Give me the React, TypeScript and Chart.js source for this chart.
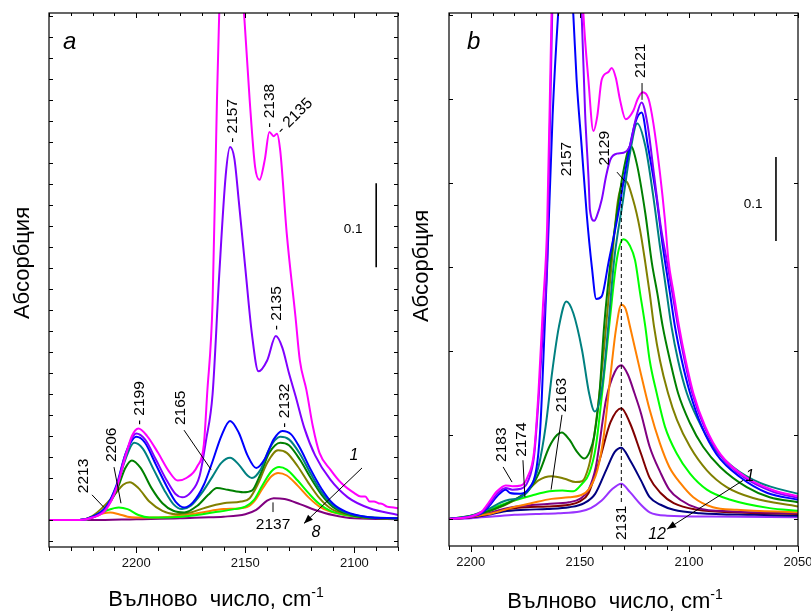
import React, { useEffect, useRef } from "react";
import { Chart, registerables } from "chart.js";

Chart.register(...registerables);

// ---------- Panel a: CO adsorption series (curves 1 → 8) ----------
const A_X_LABELS = [2200, 2150, 2100];

const A1_NU = [2240, 2226, 2220, 2214, 2209, 2205, 2202, 2199, 2195, 2190, 2185, 2181, 2177, 2172, 2169, 2167.5, 2165, 2163, 2162, 2160, 2157, 2154, 2151, 2148, 2145.5, 2143.5, 2141, 2139, 2137, 2135.5, 2134, 2131, 2127, 2125, 2122, 2119, 2116, 2111, 2106, 2100, 2097, 2095, 2093, 2091, 2089, 2087, 2085, 2082, 2080];
const A1_ABS = [0, 0, 0.003, 0.012, 0.038, 0.075, 0.1, 0.109, 0.1, 0.08, 0.058, 0.047, 0.05, 0.064, 0.09, 0.15, 0.26, 0.5, 0.6, 0.76, 0.85, 0.76, 0.62, 0.5, 0.42, 0.405, 0.43, 0.462, 0.457, 0.46, 0.44, 0.341, 0.242, 0.19, 0.155, 0.111, 0.08, 0.06, 0.044, 0.032, 0.028, 0.028, 0.022, 0.022, 0.02, 0.019, 0.016, 0.015, 0.014];

const A2_NU = [2240, 2226, 2220, 2214, 2209, 2205, 2200, 2196, 2191, 2186, 2182, 2179, 2175, 2171, 2168, 2165, 2162, 2159, 2157, 2155, 2153, 2150, 2147, 2144, 2140, 2136, 2133, 2130, 2127, 2123, 2118, 2111, 2103, 2093, 2080];
const A2_ABS = [0, 0, 0.003, 0.013, 0.04, 0.078, 0.103, 0.096, 0.072, 0.047, 0.031, 0.027, 0.033, 0.052, 0.095, 0.15, 0.29, 0.41, 0.444, 0.43, 0.38, 0.3, 0.222, 0.177, 0.19, 0.219, 0.205, 0.175, 0.148, 0.11, 0.077, 0.048, 0.027, 0.014, 0.006];

const A3_NU = [2240, 2226, 2220, 2214, 2209, 2205, 2200, 2196, 2191, 2186, 2182, 2178, 2174, 2169, 2165, 2161, 2157, 2153, 2149, 2145, 2141, 2137, 2133, 2129, 2125, 2120, 2115, 2110, 2104, 2095, 2080];
const A3_ABS = [0, 0, 0.004, 0.015, 0.042, 0.078, 0.099, 0.092, 0.066, 0.04, 0.022, 0.015, 0.021, 0.042, 0.07, 0.1, 0.118, 0.104, 0.077, 0.062, 0.073, 0.096, 0.106, 0.102, 0.086, 0.06, 0.037, 0.02, 0.01, 0.004, 0.002];

const A4_NU = [2240, 2226, 2220, 2214, 2209, 2205, 2201, 2197, 2192, 2187, 2183, 2179, 2175, 2170, 2165, 2161, 2157, 2153, 2149, 2147, 2143, 2139, 2134, 2130, 2125, 2120, 2115, 2110, 2104, 2095, 2080];
const A4_ABS = [0, 0, 0.004, 0.015, 0.04, 0.072, 0.092, 0.085, 0.06, 0.035, 0.019, 0.013, 0.017, 0.032, 0.052, 0.068, 0.074, 0.066, 0.053, 0.05, 0.06, 0.085, 0.099, 0.096, 0.079, 0.055, 0.033, 0.018, 0.009, 0.004, 0.002];

const A5_NU = [2240, 2226, 2220, 2214, 2209, 2205, 2202, 2198, 2193, 2188, 2183, 2178, 2172, 2167, 2163, 2158, 2151, 2147, 2143, 2139, 2134, 2130, 2125, 2120, 2115, 2110, 2104, 2095, 2080];
const A5_ABS = [0, 0, 0.004, 0.014, 0.035, 0.062, 0.071, 0.062, 0.038, 0.02, 0.011, 0.009, 0.017, 0.03, 0.038, 0.036, 0.033, 0.035, 0.055, 0.08, 0.092, 0.089, 0.072, 0.05, 0.03, 0.016, 0.008, 0.003, 0.002];

const A6_NU = [2240, 2226, 2220, 2215, 2210, 2206, 2203, 2199, 2194, 2188, 2182, 2175, 2168, 2160, 2152, 2148, 2144, 2140, 2135, 2131, 2126, 2121, 2116, 2111, 2104, 2095, 2080];
const A6_ABS = [0, 0, 0.005, 0.016, 0.03, 0.042, 0.045, 0.038, 0.022, 0.011, 0.007, 0.009, 0.015, 0.02, 0.022, 0.026, 0.044, 0.068, 0.083, 0.08, 0.064, 0.044, 0.026, 0.014, 0.007, 0.003, 0.002];

const A7_NU = [2240, 2224, 2218, 2213, 2208, 2204, 2199, 2194, 2185, 2175, 2165, 2155, 2150, 2146, 2142, 2138, 2134.5, 2131, 2126, 2121, 2116, 2111, 2104, 2095, 2080];
const A7_ABS = [0, 0, 0.006, 0.012, 0.015, 0.013, 0.006, 0.003, 0.003, 0.005, 0.009, 0.013, 0.016, 0.024, 0.042, 0.058, 0.063, 0.06, 0.047, 0.032, 0.019, 0.011, 0.006, 0.003, 0.002];

const A8_NU = [2240, 2225, 2220, 2215, 2212, 2208, 2204, 2200, 2190, 2180, 2170, 2160, 2150, 2146, 2142, 2138, 2135, 2131, 2126, 2121, 2116, 2111, 2104, 2095, 2080];
const A8_ABS = [0, 0, 0.003, 0.008, 0.009, 0.007, 0.004, 0.003, 0.003, 0.005, 0.009, 0.013, 0.015, 0.022, 0.038, 0.052, 0.056, 0.053, 0.041, 0.027, 0.016, 0.01, 0.006, 0.003, 0.002];

const A9_NU = [2240, 2220, 2200, 2180, 2170, 2160, 2150, 2145, 2140, 2137, 2132, 2125, 2118, 2110, 2100, 2080];
const A9_ABS = [0, 0, 0.001, 0.002, 0.003, 0.004, 0.007, 0.012, 0.023, 0.026, 0.025, 0.019, 0.012, 0.006, 0.002, 0.001];

// ---------- Panel b: series 1 → 12 ----------
const B_X_LABELS = [2200, 2150, 2100, 2050];

const B1_NU = [2210, 2200, 2195, 2191.7, 2188, 2184, 2181, 2177, 2174, 2171, 2169, 2167, 2165, 2163, 2161, 2157, 2153, 2150, 2148.4, 2146.1, 2143.8, 2142, 2140, 2137, 2135.4, 2133.5, 2131.6, 2129, 2125.5, 2123.5, 2121.2, 2118.5, 2116.3, 2113.3, 2111, 2109.4, 2107, 2104.5, 2101.5, 2098, 2092.5, 2085.5, 2074, 2061, 2050];
const B1_ABS = [0, 0.003, 0.009, 0.02, 0.033, 0.04, 0.039, 0.04, 0.05, 0.08, 0.15, 0.25, 0.35, 0.6, 0.8, 0.95, 0.85, 0.7, 0.602, 0.523, 0.462, 0.48, 0.523, 0.532, 0.537, 0.525, 0.499, 0.476, 0.486, 0.5, 0.508, 0.5, 0.471, 0.412, 0.356, 0.308, 0.269, 0.229, 0.189, 0.15, 0.11, 0.077, 0.05, 0.034, 0.027];

const B2_NU = [2210, 2200, 2195, 2191.7, 2188, 2184, 2181, 2177, 2173.8, 2171, 2169, 2167, 2165, 2162.7, 2160, 2157, 2153, 2150.5, 2149.2, 2147.6, 2146, 2145.4, 2143.4, 2142.3, 2140, 2138, 2136, 2133, 2130, 2127, 2124.5, 2121.7, 2119, 2116, 2113, 2110.2, 2107.6, 2105, 2102, 2098.5, 2093, 2086, 2075, 2062, 2050];
const B2_ABS = [0, 0.003, 0.008, 0.017, 0.03, 0.037, 0.035, 0.036, 0.045, 0.075, 0.14, 0.22, 0.31, 0.6, 0.78, 0.85, 0.75, 0.65, 0.602, 0.483, 0.404, 0.368, 0.355, 0.36, 0.38, 0.408, 0.428, 0.435, 0.436, 0.445, 0.475, 0.496, 0.47, 0.41, 0.35, 0.308, 0.269, 0.229, 0.189, 0.15, 0.11, 0.077, 0.05, 0.033, 0.025];

const B3_NU = [2210, 2200, 2195, 2191.7, 2188, 2184, 2182, 2177.4, 2173.8, 2169.8, 2168.3, 2167.5, 2165, 2162.5, 2160, 2157, 2155, 2153, 2151.5, 2149.2, 2146.9, 2144.5, 2142.5, 2140, 2136.9, 2132.4, 2128.5, 2124.7, 2121.7, 2118.8, 2115, 2112, 2108.7, 2106.4, 2103.3, 2099.5, 2094.1, 2087.3, 2076.6, 2064, 2050];
const B3_ABS = [0, 0.003, 0.007, 0.015, 0.027, 0.035, 0.031, 0.03, 0.035, 0.062, 0.102, 0.142, 0.3, 0.48, 0.6, 0.7, 0.68, 0.6, 0.523, 0.444, 0.364, 0.3, 0.262, 0.265, 0.305, 0.364, 0.424, 0.471, 0.484, 0.444, 0.385, 0.325, 0.269, 0.229, 0.189, 0.15, 0.11, 0.077, 0.05, 0.031, 0.023];

const B4_NU = [2210, 2200, 2192, 2186, 2182.5, 2178, 2173.3, 2169, 2165.7, 2162.6, 2159.6, 2156.2, 2153, 2149, 2145.8, 2143.2, 2139.8, 2137, 2134.3, 2130.2, 2127, 2123.7, 2120, 2116.4, 2113.3, 2110.2, 2108, 2105, 2101, 2095.8, 2089, 2079.8, 2067.4, 2050];
const B4_ABS = [0, 0.004, 0.012, 0.02, 0.023, 0.025, 0.035, 0.062, 0.11, 0.177, 0.229, 0.259, 0.245, 0.201, 0.15, 0.128, 0.157, 0.229, 0.308, 0.38, 0.436, 0.471, 0.444, 0.385, 0.325, 0.269, 0.229, 0.189, 0.15, 0.118, 0.086, 0.062, 0.043, 0.03];

const B5_NU = [2210, 2200, 2190, 2180, 2173.3, 2168.7, 2164, 2160.5, 2158.3, 2155, 2151, 2148, 2145.5, 2143.5, 2141, 2138.9, 2136, 2133, 2130.2, 2126.7, 2124, 2120, 2117, 2114.5, 2112, 2108.7, 2105, 2099.5, 2093.5, 2085.7, 2073.5, 2063, 2050];
const B5_ABS = [0, 0.004, 0.011, 0.023, 0.035, 0.055, 0.086, 0.1, 0.103, 0.095, 0.079, 0.072, 0.08, 0.098, 0.15, 0.229, 0.305, 0.364, 0.412, 0.444, 0.424, 0.364, 0.305, 0.269, 0.229, 0.189, 0.15, 0.114, 0.086, 0.062, 0.038, 0.026, 0.02];

const B6_NU = [2210, 2200, 2192, 2182.5, 2175, 2169, 2163, 2157, 2152, 2149, 2146, 2144.4, 2141, 2138, 2135.3, 2132.5, 2129, 2125.6, 2122.4, 2120, 2118, 2116, 2113.3, 2109.6, 2105.5, 2099.5, 2091.8, 2082.7, 2070.6, 2050];
const B6_ABS = [0, 0.003, 0.009, 0.019, 0.031, 0.046, 0.051, 0.048, 0.044, 0.045, 0.062, 0.082, 0.15, 0.229, 0.308, 0.38, 0.402, 0.38, 0.344, 0.305, 0.269, 0.229, 0.189, 0.15, 0.118, 0.086, 0.058, 0.038, 0.025, 0.015];

const B7_NU = [2210, 2203, 2198, 2190, 2180, 2172, 2164, 2158, 2153, 2149, 2145.8, 2142.7, 2139.8, 2136.6, 2133, 2130, 2127, 2124.7, 2122.4, 2120, 2118, 2114.8, 2111, 2105.6, 2099.5, 2091.8, 2081, 2063, 2050];
const B7_ABS = [0, 0.002, 0.005, 0.013, 0.022, 0.028, 0.033, 0.034, 0.033, 0.042, 0.054, 0.086, 0.15, 0.229, 0.31, 0.333, 0.325, 0.308, 0.269, 0.229, 0.189, 0.15, 0.11, 0.078, 0.054, 0.035, 0.023, 0.013, 0.01];

const B8_NU = [2210, 2200, 2190, 2182, 2172, 2163, 2155, 2150, 2146, 2142, 2139, 2136, 2133.5, 2131, 2129, 2127, 2122.4, 2118, 2113.3, 2109, 2104, 2098, 2089, 2078, 2050];
const B8_ABS = [0, 0.003, 0.007, 0.013, 0.019, 0.024, 0.026, 0.028, 0.035, 0.058, 0.1, 0.17, 0.225, 0.255, 0.25, 0.229, 0.177, 0.13, 0.09, 0.062, 0.043, 0.026, 0.014, 0.011, 0.008];

const B9_NU = [2210, 2200, 2192, 2185, 2175, 2165, 2155, 2150, 2146, 2142.7, 2138, 2134, 2131, 2128, 2125, 2122, 2118, 2113, 2109, 2104, 2096, 2080, 2050];
const B9_ABS = [0, 0.002, 0.007, 0.012, 0.016, 0.018, 0.02, 0.024, 0.035, 0.062, 0.142, 0.175, 0.183, 0.172, 0.15, 0.126, 0.086, 0.055, 0.035, 0.023, 0.013, 0.009, 0.007];

const B10_NU = [2210, 2200, 2192, 2185, 2175, 2165, 2155, 2150, 2146, 2141, 2136, 2131, 2127, 2122, 2118, 2113, 2107, 2096, 2080, 2050];
const B10_ABS = [0, 0.002, 0.006, 0.011, 0.014, 0.015, 0.017, 0.021, 0.031, 0.07, 0.115, 0.132, 0.114, 0.078, 0.049, 0.031, 0.019, 0.011, 0.008, 0.006];

const B11_NU = [2210, 2200, 2192, 2185, 2175, 2165, 2155, 2148, 2143, 2138, 2134, 2131, 2127, 2122, 2118, 2113, 2107, 2095, 2070, 2050];
const B11_ABS = [0, 0.002, 0.005, 0.009, 0.011, 0.012, 0.014, 0.019, 0.03, 0.058, 0.08, 0.085, 0.07, 0.046, 0.026, 0.017, 0.011, 0.007, 0.005, 0.004];

const B12_NU = [2210, 2200, 2190, 2180, 2170, 2160, 2150, 2145, 2140, 2135, 2131, 2127, 2122, 2118, 2110, 2090, 2050];
const B12_ABS = [0, 0.001, 0.003, 0.005, 0.006, 0.007, 0.009, 0.013, 0.022, 0.036, 0.042, 0.032, 0.017, 0.008, 0.004, 0.003, 0.002];

// ---------- drawing helpers ----------
const FONT = '"Liberation Sans", Arial, Helvetica, sans-serif';

type Curve = { nu: number[]; abs: number[]; color: string };
type Note = { text: string; nu: number; a: number; rot?: number; size?: number; italic?: boolean; align?: CanvasTextAlign };
type Seg = { from: [number, number]; to: [number, number]; dash?: boolean; arrow?: boolean; width?: number };

type PanelSpec = {
  xMin: number;
  xMax: number;
  yMin: number;
  yMax: number;
  yStep: number;
  xLabels: number[];
  padding: { left: number; right: number; top: number; bottom: number };
  curves: Curve[];
  notes: Note[];
  segs: Seg[];
  xTitle: { cx: number; baseline: number };
  yTitle: { cx: number; cy: number };
};

const A_CURVES: Curve[] = [
  { nu: A1_NU, abs: A1_ABS, color: "#ff00ff" },
  { nu: A2_NU, abs: A2_ABS, color: "#8000ff" },
  { nu: A3_NU, abs: A3_ABS, color: "#0000ff" },
  { nu: A4_NU, abs: A4_ABS, color: "#008080" },
  { nu: A5_NU, abs: A5_ABS, color: "#008000" },
  { nu: A6_NU, abs: A6_ABS, color: "#808000" },
  { nu: A7_NU, abs: A7_ABS, color: "#00ff00" },
  { nu: A8_NU, abs: A8_ABS, color: "#ff8000" },
  { nu: A9_NU, abs: A9_ABS, color: "#800080" },
];

const B_CURVES: Curve[] = [
  { nu: B1_NU, abs: B1_ABS, color: "#ff00ff" },
  { nu: B2_NU, abs: B2_ABS, color: "#8000ff" },
  { nu: B3_NU, abs: B3_ABS, color: "#0000ff" },
  { nu: B4_NU, abs: B4_ABS, color: "#008080" },
  { nu: B5_NU, abs: B5_ABS, color: "#008000" },
  { nu: B6_NU, abs: B6_ABS, color: "#808000" },
  { nu: B7_NU, abs: B7_ABS, color: "#00ff00" },
  { nu: B8_NU, abs: B8_ABS, color: "#ff8000" },
  { nu: B9_NU, abs: B9_ABS, color: "#800080" },
  { nu: B10_NU, abs: B10_ABS, color: "#800000" },
  { nu: B11_NU, abs: B11_ABS, color: "#000080" },
  { nu: B12_NU, abs: B12_ABS, color: "#9933ff" },
];

const PANEL_A: PanelSpec = {
  xMin: 2080,
  xMax: 2240,
  yMin: -0.0321,
  yMax: 0.6036,
  yStep: 0.025,
  xLabels: A_X_LABELS,
  padding: { left: 49, right: 7, top: 13, bottom: 65 },
  curves: A_CURVES,
  notes: [
    { text: "a", nu: 2233.6, a: 0.561, size: 24, italic: true, align: "left" },
    { text: "- 2157", nu: 2155.6, a: 0.449, rot: -90 },
    { text: "- 2138", nu: 2138.7, a: 0.467, rot: -90 },
    { text: "- 2135", nu: 2134.5, a: 0.462, rot: -45 },
    { text: "- 2135", nu: 2135.5, a: 0.226, rot: -90 },
    { text: "- 2132", nu: 2131.8, a: 0.11, rot: -90 },
    { text: "- 2199", nu: 2198.3, a: 0.113, rot: -90 },
    { text: "2206", nu: 2211.1, a: 0.069, rot: -90 },
    { text: "2213", nu: 2224, a: 0.032, rot: -90 },
    { text: "2165", nu: 2179.5, a: 0.113, rot: -90 },
    { text: "2137", nu: 2137.3, a: -0.006, align: "center" },
    { text: "1", nu: 2100.2, a: 0.077, italic: true, size: 16, align: "center" },
    { text: "8", nu: 2117.6, a: -0.015, italic: true, size: 16, align: "center" },
    { text: "0.1", nu: 2100.6, a: 0.346, size: 13.5, align: "center" },
  ],
  segs: [
    { from: [2210.2, 0.063], to: [2207, 0.02] },
    { from: [2220.3, 0.03], to: [2214.8, 0.015] },
    { from: [2178.1, 0.107], to: [2165.7, 0.06] },
    { from: [2137.3, 0.021], to: [2137.3, 0.0095] },
    { from: [2096.5, 0.062], to: [2123.1, -0.004], arrow: true },
    { from: [2090, 0.401], to: [2090, 0.301], width: 1.6 },
  ],
  xTitle: { cx: 216, baseline: 606 },
  yTitle: { cx: 23, cy: 263 },
};

const PANEL_B: PanelSpec = {
  xMin: 2050,
  xMax: 2210,
  yMin: -0.0321,
  yMax: 0.6024,
  yStep: 0.1,
  xLabels: B_X_LABELS,
  padding: { left: 44, right: 13, top: 13, bottom: 66 },
  curves: B_CURVES,
  notes: [
    { text: "b", nu: 2201.7, a: 0.56, size: 24, italic: true, align: "left" },
    { text: "2157", nu: 2155.9, a: 0.408, rot: -90 },
    { text: "2129", nu: 2138.5, a: 0.421, rot: -90 },
    { text: "2121", nu: 2122, a: 0.525, rot: -90 },
    { text: "2131", nu: 2131, a: -0.025, rot: -90 },
    { text: "2163", nu: 2158.2, a: 0.127, rot: -90 },
    { text: "2174", nu: 2176.5, a: 0.074, rot: -90 },
    { text: "2183", nu: 2185.7, a: 0.068, rot: -90 },
    { text: "1", nu: 2072, a: 0.05, italic: true, size: 16, align: "center" },
    { text: "12", nu: 2114.6, a: -0.019, italic: true, size: 16, align: "center" },
    { text: "0.1", nu: 2070.6, a: 0.375, size: 13.5, align: "center" },
  ],
  segs: [
    { from: [2133, 0.413], to: [2129.3, 0.402] },
    { from: [2121.5, 0.519], to: [2121.5, 0.499] },
    { from: [2131, 0.4], to: [2131, 0.02], dash: true },
    { from: [2158.2, 0.124], to: [2163.2, 0.035] },
    { from: [2176.1, 0.07], to: [2175.2, 0.026] },
    { from: [2185.2, 0.062], to: [2181.1, 0.044] },
    { from: [2075.2, 0.046], to: [2110, -0.012], arrow: true },
    { from: [2060.1, 0.431], to: [2060.1, 0.331], width: 1.6 },
  ],
  xTitle: { cx: 210, baseline: 608 },
  yTitle: { cx: 17, cy: 266 },
};

function decorPlugin(spec: PanelSpec) {
  return {
    id: "spectrumDecor",
    afterDatasetsDraw(chart: Chart) {
      const ctx = chart.ctx;
      const xs = chart.scales.x;
      const ys = chart.scales.y;
      const area = chart.chartArea;
      const X = (v: number) => xs.getPixelForValue(v);
      const Y = (v: number) => ys.getPixelForValue(v);
      ctx.save();

      // frame
      ctx.strokeStyle = "#000";
      ctx.lineWidth = 1.2;
      ctx.setLineDash([]);
      ctx.strokeRect(area.left, area.top, area.right - area.left, area.bottom - area.top);

      // x ticks every 10 cm-1, labelled ones longer
      ctx.lineWidth = 1;
      const k0 = Math.ceil(spec.xMin / 10);
      const k1 = Math.floor(spec.xMax / 10);
      for (let k = k0; k <= k1; k++) {
        const v = k * 10;
        const px = Math.round(X(v)) + 0.5;
        const major = v % 50 === 0;
        ctx.beginPath();
        ctx.moveTo(px, area.bottom);
        ctx.lineTo(px, area.bottom + (major ? 6 : 4));
        ctx.moveTo(px, area.top);
        ctx.lineTo(px, area.top + (major ? 5 : 3));
        ctx.stroke();
      }
      // y ticks, inward on both sides
      const j0 = Math.ceil(spec.yMin / spec.yStep);
      const j1 = Math.floor(spec.yMax / spec.yStep);
      for (let j = j0; j <= j1; j++) {
        const py = Math.round(Y(j * spec.yStep)) + 0.5;
        ctx.beginPath();
        ctx.moveTo(area.left, py);
        ctx.lineTo(area.left + 4, py);
        ctx.moveTo(area.right, py);
        ctx.lineTo(area.right - 4, py);
        ctx.stroke();
      }

      // x tick labels
      ctx.fillStyle = "#111";
      ctx.font = `13px ${FONT}`;
      ctx.textAlign = "center";
      ctx.textBaseline = "middle";
      for (const v of spec.xLabels) {
        ctx.fillText(String(v), X(v), area.bottom + 16);
      }

      // x axis title with superscript
      ctx.fillStyle = "#000";
      ctx.textBaseline = "alphabetic";
      ctx.textAlign = "left";
      const main = "Вълново  число, cm";
      const sup = "-1";
      ctx.font = `22px ${FONT}`;
      const wMain = ctx.measureText(main).width;
      ctx.font = `14px ${FONT}`;
      const wSup = ctx.measureText(sup).width;
      const x0 = spec.xTitle.cx - (wMain + wSup) / 2;
      ctx.font = `22px ${FONT}`;
      ctx.fillText(main, x0, spec.xTitle.baseline);
      ctx.font = `14px ${FONT}`;
      ctx.fillText(sup, x0 + wMain, spec.xTitle.baseline - 9);

      // y axis title
      ctx.save();
      ctx.translate(spec.yTitle.cx, spec.yTitle.cy);
      ctx.rotate(-Math.PI / 2);
      ctx.font = `22px ${FONT}`;
      ctx.textAlign = "center";
      ctx.textBaseline = "middle";
      ctx.fillText("Абсорбция", 0, 0);
      ctx.restore();

      // leader lines, arrows, scale bar
      for (const s of spec.segs) {
        const x1 = X(s.from[0]);
        const y1 = Y(s.from[1]);
        const x2 = X(s.to[0]);
        const y2 = Y(s.to[1]);
        ctx.strokeStyle = "#000";
        ctx.lineWidth = s.width ?? 1;
        ctx.setLineDash(s.dash ? [4, 3] : []);
        ctx.beginPath();
        ctx.moveTo(x1, y1);
        ctx.lineTo(x2, y2);
        ctx.stroke();
        ctx.setLineDash([]);
        if (s.arrow) {
          const ang = Math.atan2(y2 - y1, x2 - x1);
          const L = 9;
          const W = 3.5;
          ctx.fillStyle = "#000";
          ctx.beginPath();
          ctx.moveTo(x2, y2);
          ctx.lineTo(x2 - L * Math.cos(ang) + W * Math.sin(ang), y2 - L * Math.sin(ang) - W * Math.cos(ang));
          ctx.lineTo(x2 - L * Math.cos(ang) - W * Math.sin(ang), y2 - L * Math.sin(ang) + W * Math.cos(ang));
          ctx.closePath();
          ctx.fill();
        }
      }

      // text notes
      ctx.fillStyle = "#000";
      for (const n of spec.notes) {
        const size = n.size ?? 15.5;
        ctx.save();
        ctx.translate(X(n.nu), Y(n.a));
        if (n.rot) ctx.rotate((n.rot * Math.PI) / 180);
        ctx.font = `${n.italic ? "italic " : ""}${size}px ${FONT}`;
        ctx.textAlign = n.align ?? "left";
        ctx.textBaseline = n.size === 24 ? "alphabetic" : "middle";
        ctx.fillText(n.text, 0, 0);
        ctx.restore();
      }

      ctx.restore();
    },
  };
}

function SpectrumPanel({ spec, left, width }: { spec: PanelSpec; left: number; width: number }) {
  const ref = useRef<HTMLCanvasElement | null>(null);
  useEffect(() => {
    if (!ref.current) return;
    const chart = new Chart(ref.current, {
      type: "line",
      data: {
        datasets: spec.curves.map((c) => ({
          data: c.nu.map((n, i) => ({ x: n, y: c.abs[i] })),
          borderColor: c.color,
          backgroundColor: c.color,
          borderWidth: 2,
          pointRadius: 0,
          fill: false,
          cubicInterpolationMode: "monotone" as const,
        })),
      },
      options: {
        animation: false,
        responsive: false,
        maintainAspectRatio: false,
        events: [],
        layout: { padding: spec.padding },
        plugins: { legend: { display: false }, tooltip: { enabled: false } },
        scales: {
          x: { type: "linear", reverse: true, min: spec.xMin, max: spec.xMax, display: false },
          y: { type: "linear", min: spec.yMin, max: spec.yMax, display: false },
        },
      },
      plugins: [decorPlugin(spec)],
    });
    return () => chart.destroy();
  }, [spec]);
  return (
    <canvas
      ref={ref}
      width={width}
      height={612}
      style={{ position: "absolute", left, top: 0, width, height: 612 }}
    />
  );
}

export default function App() {
  return (
    <div
      style={{
        position: "fixed",
        left: 0,
        top: 0,
        width: 811,
        height: 612,
        background: "#fff",
        overflow: "hidden",
      }}
    >
      <SpectrumPanel spec={PANEL_A} left={0} width={405} />
      <SpectrumPanel spec={PANEL_B} left={405} width={406} />
    </div>
  );
}
